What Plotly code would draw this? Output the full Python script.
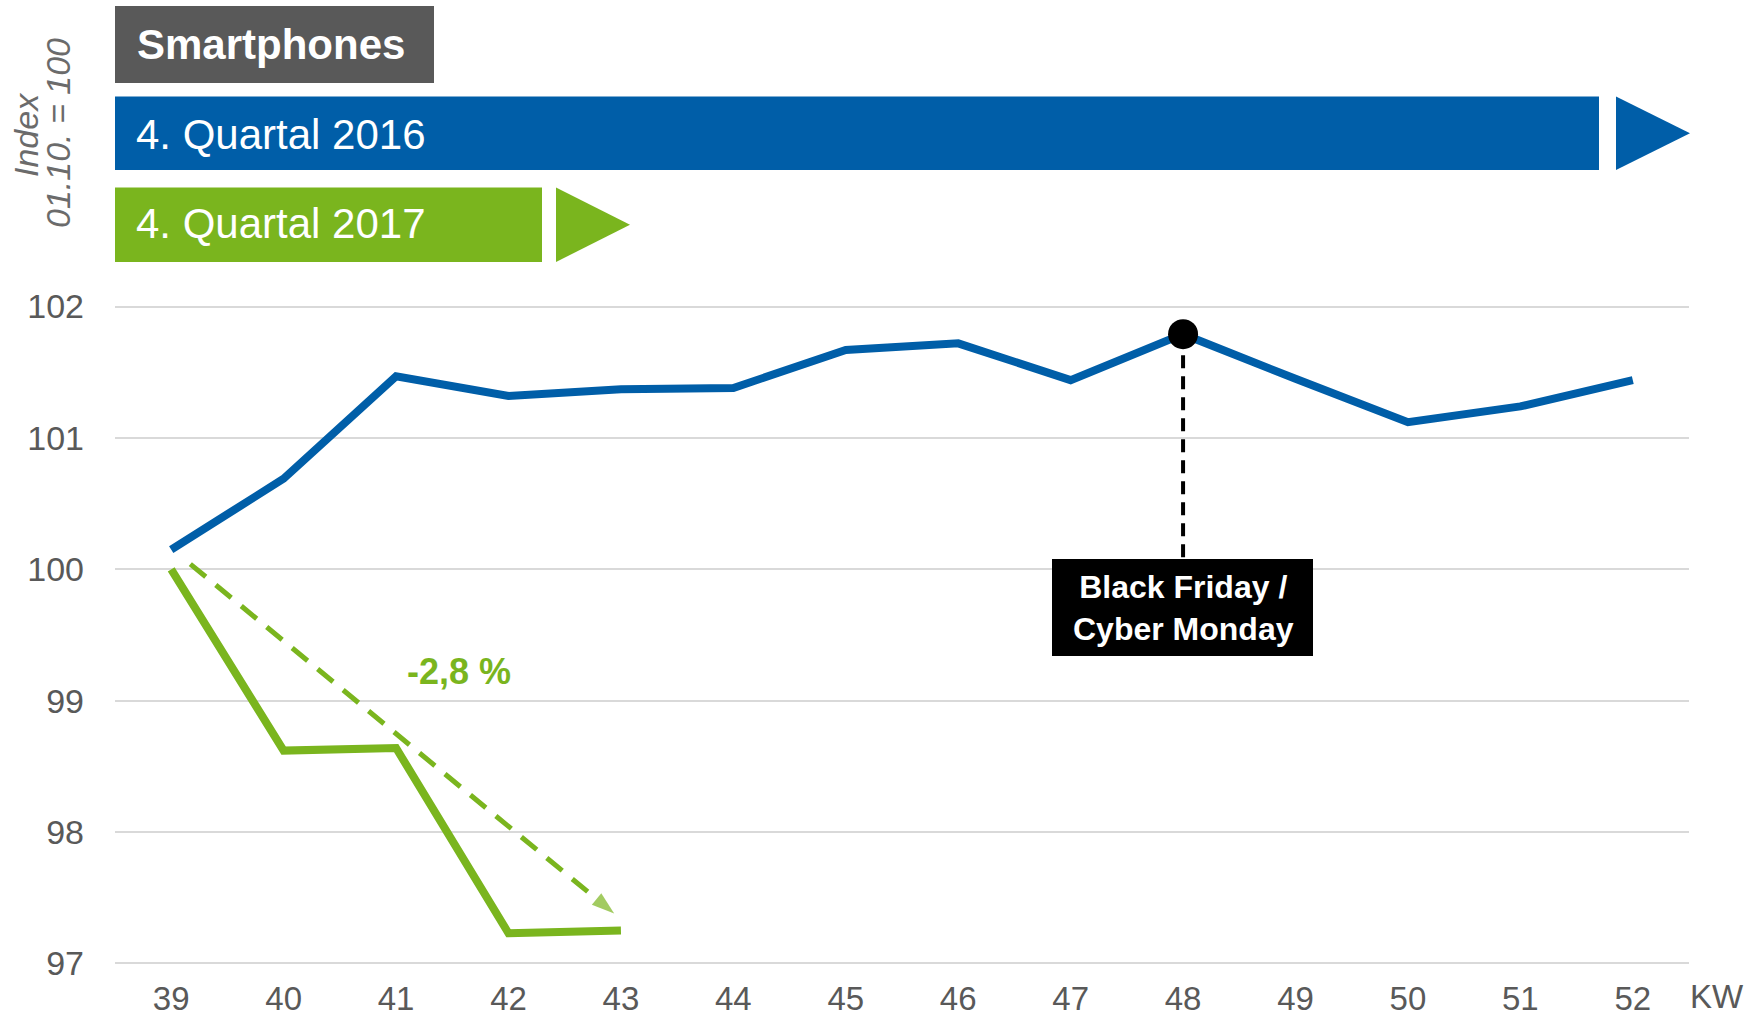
import plotly.graph_objects as go

# ---------------- data ----------------
weeks = [39, 40, 41, 42, 43, 44, 45, 46, 47, 48, 49, 50, 51, 52]
q4_2016 = [100.15, 100.69, 101.47, 101.32, 101.37, 101.38, 101.67, 101.72,
           101.44, 101.79, 101.45, 101.12, 101.24, 101.44]
weeks_2017 = [39, 40, 41, 42, 43]
q4_2017 = [100.00, 98.62, 98.64, 97.23, 97.25]
trend_x = [39.17, 42.94]
trend_y = [100.04, 97.38]
trend_label = "-2,8 %"
event_week = 48
event_value = 101.79
event_label = "Black Friday /<br>Cyber Monday"
y_ticks = [97, 98, 99, 100, 101, 102]
series_names = ["4. Quartal 2016", "4. Quartal 2017"]
header_title = "Smartphones"

# ---------------- style ----------------
BLUE = "#005EA8"
GREEN = "#7AB51E"
DARK = "#595959"
TICK = "#595959"
GRID = "#D9D9D9"
FONT = "Liberation Sans, Arial, sans-serif"

W, H = 1760, 1018
ML, MR, MT, MB = 115, 71, 300, 48
PW = W - ML - MR
PH = H - MT - MB
XR = [38.5, 52.5]
YR = [96.95, 102.05]


def px(xp):
    return (xp - ML) / PW


def py(yp):
    return (H - MB - yp) / PH


def ydata(yp):
    return YR[1] - (yp - MT) / PH * (YR[1] - YR[0])


def xdata(xp):
    return XR[0] + (xp - ML) / PW * (XR[1] - XR[0])


fig = go.Figure()

# 2016 line
fig.add_trace(go.Scatter(x=weeks, y=q4_2016, mode="lines",
                         line=dict(color=BLUE, width=8), name=series_names[0],
                         hoverinfo="skip"))
# 2017 line
fig.add_trace(go.Scatter(x=weeks_2017, y=q4_2017, mode="lines",
                         line=dict(color=GREEN, width=8), name=series_names[1],
                         hoverinfo="skip"))
# trend arrow (dashed)
fig.add_trace(go.Scatter(x=trend_x, y=trend_y, mode="lines+markers",
                         line=dict(color=GREEN, width=5, dash="20px,13px"),
                         marker=dict(symbol="arrow", size=[0, 24], color=GREEN,
                                     angleref="previous",
                                     line=dict(width=0)),
                         hoverinfo="skip"))

# Event box
box_top = ydata(559)
box_bot = ydata(656)
fig.add_shape(type="rect", xref="x", yref="y",
              x0=xdata(1052), x1=xdata(1313), y0=box_bot, y1=box_top,
              fillcolor="black", line=dict(width=0), layer="above")
fig.add_trace(go.Scatter(x=[event_week, event_week], y=[event_value, box_top],
                         mode="lines",
                         line=dict(color="black", width=4, dash="13px,8px"),
                         hoverinfo="skip"))
fig.add_trace(go.Scatter(x=[event_week], y=[event_value], mode="markers",
                         marker=dict(color="black", size=30),
                         hoverinfo="skip"))
fig.add_annotation(x=event_week, y=(box_top + box_bot) / 2, xref="x", yref="y",
                   text="<b>" + event_label + "</b>", showarrow=False,
                   font=dict(family=FONT, size=32, color="white"),
                   xanchor="center", yanchor="middle", align="center")

# trend label
fig.add_annotation(x=xdata(459), y=ydata(671.5), xref="x", yref="y",
                   text="<b>" + trend_label + "</b>", showarrow=False,
                   font=dict(family=FONT, size=36, color=GREEN),
                   xanchor="center", yanchor="middle")

# ---------------- header boxes ----------------
def rect(x0, x1, y0, y1, color):
    fig.add_shape(type="rect", xref="paper", yref="paper",
                  x0=px(x0), x1=px(x1), y0=py(y1), y1=py(y0),
                  fillcolor=color, line=dict(width=0))


def tri(x0, x1, y0, y1, color):
    path = "M {a},{b} L {c},{d} L {a},{e} Z".format(
        a=px(x0), b=py(y0), c=px(x1), d=py((y0 + y1) / 2), e=py(y1))
    fig.add_shape(type="path", xref="paper", yref="paper", path=path,
                  fillcolor=color, line=dict(width=0))


rect(115, 434, 6, 83, DARK)
rect(115, 1599, 96.5, 170, BLUE)
tri(1616, 1690, 96.5, 170, BLUE)
rect(115, 542, 187.5, 262, GREEN)
tri(556, 630, 187.5, 262, GREEN)

fig.add_annotation(x=px(135), y=py(45), xref="paper", yref="paper",
                   text="<b>" + header_title + "</b>", showarrow=False,
                   font=dict(family=FONT, size=42, color="white"),
                   xanchor="left", yanchor="middle")
fig.add_annotation(x=px(134), y=py(134), xref="paper", yref="paper",
                   text=series_names[0], showarrow=False,
                   font=dict(family=FONT, size=42, color="white"),
                   xanchor="left", yanchor="middle")
fig.add_annotation(x=px(134), y=py(224), xref="paper", yref="paper",
                   text=series_names[1], showarrow=False,
                   font=dict(family=FONT, size=42, color="white"),
                   xanchor="left", yanchor="middle")

# y-axis title (two rotated lines)
fig.add_annotation(x=px(26), y=py(135), xref="paper", yref="paper",
                   text="<i>Index</i>", showarrow=False, textangle=-90,
                   font=dict(family=FONT, size=34, color="#6B6B6B"),
                   xanchor="center", yanchor="middle")
fig.add_annotation(x=px(58), y=py(133), xref="paper", yref="paper",
                   text="<i>01.10. = 100</i>", showarrow=False, textangle=-90,
                   font=dict(family=FONT, size=34, color="#6B6B6B"),
                   xanchor="center", yanchor="middle")

# KW label
fig.add_annotation(x=px(1717), y=py(996), xref="paper", yref="paper",
                   text="KW", showarrow=False,
                   font=dict(family=FONT, size=33, color=TICK),
                   xanchor="center", yanchor="middle")

fig.update_layout(
    width=W, height=H, autosize=False,
    margin=dict(l=ML, r=MR, t=MT, b=MB, autoexpand=False),
    paper_bgcolor="white", plot_bgcolor="white",
    showlegend=False,
    font=dict(family=FONT, color=TICK),
    xaxis=dict(range=XR, tickvals=weeks, ticktext=[str(w) for w in weeks],
               showgrid=False, zeroline=False, showline=False,
               tickfont=dict(size=33, color=TICK), ticks="",
               ticklabelstandoff=6, automargin=False, fixedrange=True),
    yaxis=dict(range=YR, tickvals=y_ticks, ticktext=[str(v) for v in y_ticks],
               showgrid=True, gridcolor=GRID, gridwidth=2, zeroline=False,
               showline=False, tickfont=dict(size=34, color=TICK), ticks="",
               ticklabelstandoff=30, automargin=False, fixedrange=True),
)

fig.write_html("out.html",
               config={"displayModeBar": False, "staticPlot": True},
               post_script="document.body.style.margin='0';"
                           "document.body.style.overflow='hidden';")
